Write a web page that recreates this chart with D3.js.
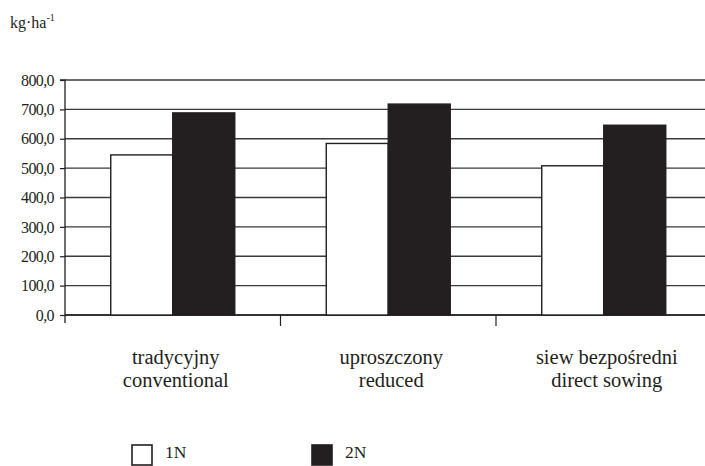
<!DOCTYPE html>
<html>
<head>
<meta charset="utf-8">
<script src="https://cdn.jsdelivr.net/npm/d3@7"></script>
<style>
  html, body { margin: 0; padding: 0; background: #fff; }
  svg { display: block; }
</style>
</head>
<body>
<svg id="chart" width="705" height="466"></svg>
<script>
// Yield per tillage system, two nitrogen levels
const categoriesPl = ["tradycyjny", "uproszczony", "siew bezpośredni"];
const categoriesEn = ["conventional", "reduced", "direct sowing"];
const seriesNames = ["1N", "2N"];
const values1N = [545, 584, 508];
const values2N = [688, 718, 646];
const yTicks = [0, 100, 200, 300, 400, 500, 600, 700, 800];

const FONT = '"Liberation Serif"';
const svg = d3.select("#chart");
const plotLeft = 65, plotRight = 711.5, plotTop = 80, plotBottom = 315;
const ink = "#231f20";

const x = d3.scaleBand().domain(d3.range(categoriesPl.length)).range([plotLeft, plotRight]);
const y = d3.scaleLinear().domain([0, 800]).range([plotBottom, plotTop]);
const inner = d3.scaleBand().domain(seriesNames).range([0, 124]);

// horizontal gridlines
svg.append("g")
  .selectAll("line")
  .data(yTicks)
  .join("line")
  .attr("x1", plotLeft).attr("x2", 705)
  .attr("y1", d => y(d)).attr("y2", d => y(d))
  .attr("stroke", "#3a3a3a").attr("stroke-width", 1.3);

// y axis with comma decimals
const yAxis = d3.axisLeft(y).tickValues(yTicks).tickSize(5).tickPadding(6)
  .tickFormat(d => d3.format(".1f")(d).replace(".", ","));
const gy = svg.append("g").attr("transform", `translate(${plotLeft},0)`).call(yAxis);
gy.select(".domain").attr("stroke", ink).attr("stroke-width", 1.3).attr("d", `M-5,${plotTop}H0V${plotBottom + 8}`);
gy.selectAll(".tick line").attr("stroke", ink).attr("stroke-width", 1.2);
gy.selectAll(".tick text").attr("fill", ink)
  .style("font-family", FONT).style("font-size", "16px")
  .style("letter-spacing", "-0.6px");

// x axis baseline and category separators
svg.append("line").attr("x1", plotLeft).attr("x2", 705).attr("y1", plotBottom).attr("y2", plotBottom)
  .attr("stroke", ink).attr("stroke-width", 1.4);
svg.append("g").selectAll("line")
  .data(d3.range(1, categoriesPl.length))
  .join("line")
  .attr("x1", d => x(d)).attr("x2", d => x(d))
  .attr("y1", plotBottom).attr("y2", plotBottom + 11)
  .attr("stroke", ink).attr("stroke-width", 1.2);

// bars
const barData = [];
categoriesPl.forEach((c, i) => {
  barData.push({ i, s: "1N", v: values1N[i] });
  barData.push({ i, s: "2N", v: values2N[i] });
});
const groupOffset = (x.bandwidth() - inner.range()[1]) / 2;
svg.append("g").selectAll("rect")
  .data(barData)
  .join("rect")
  .attr("x", d => x(d.i) + groupOffset + inner(d.s))
  .attr("width", inner.bandwidth())
  .attr("y", d => y(d.v))
  .attr("height", d => y(0) - y(d.v))
  .attr("fill", d => d.s === "1N" ? "#fff" : ink)
  .attr("stroke", ink).attr("stroke-width", 1.4);

// category labels (two lines)
const labels = svg.append("g").selectAll("text")
  .data(d3.range(categoriesPl.length))
  .join("text")
  .attr("text-anchor", "middle")
  .attr("fill", ink)
  .style("font-family", FONT)
  .style("font-size", "20.5px");
labels.append("tspan").attr("x", d => x(d) + x.bandwidth() / 2 + 3).attr("y", 364).text(d => categoriesPl[d]);
labels.append("tspan").attr("x", d => x(d) + x.bandwidth() / 2 + 3).attr("y", 387).text(d => categoriesEn[d]);

// unit label
const unit = svg.append("text").attr("x", 10).attr("y", 28).attr("fill", ink)
  .style("font-family", FONT).style("font-size", "16px");
unit.append("tspan").text("kg·ha");
unit.append("tspan").attr("dy", -7).style("font-size", "10px").text("-1");

// legend
const legendX = [132, 312];
const lg = svg.append("g").selectAll("g")
  .data(seriesNames)
  .join("g")
  .attr("transform", (d, i) => `translate(${legendX[i]},445)`);
lg.append("rect").attr("width", 20).attr("height", 20)
  .attr("fill", d => d === "1N" ? "#fff" : ink)
  .attr("stroke", ink).attr("stroke-width", 1.6);
lg.append("text").attr("x", 33).attr("y", 13).attr("fill", ink)
  .style("font-family", FONT).style("font-size", "17.5px").text(d => d);
</script>
</body>
</html>
